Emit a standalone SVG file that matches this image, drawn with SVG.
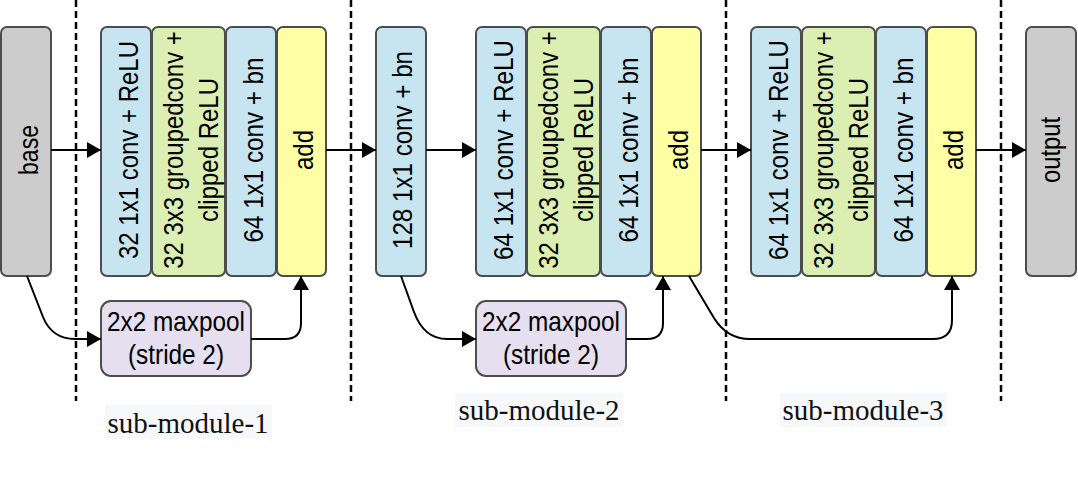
<svg xmlns="http://www.w3.org/2000/svg" width="1078" height="478" viewBox="0 0 1078 478">
<style>
.box{stroke:#4d4d4d;stroke-width:2}
.blue{fill:#c6e5f1}
.green{fill:#dcefb2}
.yellow{fill:#ffffa6}
.purple{fill:#e6dfef}
.gray{fill:#cccccc}
.lbl{font-family:"Liberation Sans",Arial,sans-serif;font-size:28px;fill:#000;text-anchor:middle}
.sub{font-family:"Liberation Serif","Times New Roman",serif;font-size:29px;fill:#111;text-anchor:middle}
.conn{fill:none;stroke:#000;stroke-width:2}
.dash{fill:none;stroke:#000;stroke-width:2.5;stroke-dasharray:7 4}
</style>
<defs>
<marker id="arr" viewBox="0 0 14 16" refX="14" refY="8" markerWidth="14" markerHeight="16" markerUnits="userSpaceOnUse" orient="auto">
<path d="M0,0 L14,8 L0,16 z" fill="#000"/>
</marker>
</defs>
<rect width="1078" height="478" fill="#fff"/>

<g id="separators">
<line class="dash" x1="76" y1="0" x2="76" y2="401"/>
<line class="dash" x1="351" y1="0" x2="351" y2="401"/>
<line class="dash" x1="726" y1="0" x2="726" y2="401"/>
<line class="dash" x1="1001" y1="0" x2="1001" y2="401"/>
</g>

<g id="base"><rect class="box gray" x="1" y="27" width="50" height="249" rx="6"/>
<text class="lbl" transform="translate(38,150) rotate(-90)" textLength="50" lengthAdjust="spacingAndGlyphs">base</text></g>

<g id="s1-conv1"><rect class="box blue" x="101" y="27" width="50" height="249" rx="6"/>
<text class="lbl" transform="translate(138,150) rotate(-90)" textLength="218" lengthAdjust="spacingAndGlyphs">32 1x1 conv + ReLU</text></g>
<g id="s1-gconv"><rect class="box green" x="152" y="27" width="73" height="249" rx="6"/>
<text class="lbl" transform="translate(183,150) rotate(-90) scale(0.855,1)">32 3x3 groupedconv +</text>
<text class="lbl" transform="translate(218,150) rotate(-90)" textLength="144" lengthAdjust="spacingAndGlyphs">clipped ReLU</text></g>
<g id="s1-conv2"><rect class="box blue" x="226" y="27" width="50" height="249" rx="6"/>
<text class="lbl" transform="translate(263,150) rotate(-90)" textLength="185" lengthAdjust="spacingAndGlyphs">64 1x1 conv + bn</text></g>
<g id="s1-add"><rect class="box yellow" x="277" y="27" width="49" height="249" rx="6"/>
<text class="lbl" transform="translate(313,150) rotate(-90)" textLength="40" lengthAdjust="spacingAndGlyphs">add</text></g>
<g id="s1-pool"><rect class="box purple" x="101" y="301" width="150" height="75" rx="10"/>
<text class="lbl" x="176" y="331" textLength="138" lengthAdjust="spacingAndGlyphs">2x2 maxpool</text>
<text class="lbl" x="176" y="364" textLength="96" lengthAdjust="spacingAndGlyphs">(stride 2)</text></g>

<g id="s2-pre"><rect class="box blue" x="376" y="27" width="50" height="249" rx="6"/>
<text class="lbl" transform="translate(412,150) rotate(-90)" textLength="198" lengthAdjust="spacingAndGlyphs">128 1x1 conv + bn</text></g>
<g id="s2-conv1"><rect class="box blue" x="476" y="27" width="50" height="249" rx="6"/>
<text class="lbl" transform="translate(513,150) rotate(-90)" textLength="220" lengthAdjust="spacingAndGlyphs">64 1x1 conv + ReLU</text></g>
<g id="s2-gconv"><rect class="box green" x="527" y="27" width="73" height="249" rx="6"/>
<text class="lbl" transform="translate(558,150) rotate(-90) scale(0.855,1)">32 3x3 groupedconv +</text>
<text class="lbl" transform="translate(593,150) rotate(-90)" textLength="144" lengthAdjust="spacingAndGlyphs">clipped ReLU</text></g>
<g id="s2-conv2"><rect class="box blue" x="601" y="27" width="50" height="249" rx="6"/>
<text class="lbl" transform="translate(638,150) rotate(-90)" textLength="185" lengthAdjust="spacingAndGlyphs">64 1x1 conv + bn</text></g>
<g id="s2-add"><rect class="box yellow" x="652" y="27" width="49" height="249" rx="6"/>
<text class="lbl" transform="translate(688,150) rotate(-90)" textLength="40" lengthAdjust="spacingAndGlyphs">add</text></g>
<g id="s2-pool"><rect class="box purple" x="476" y="301" width="150" height="75" rx="10"/>
<text class="lbl" x="551" y="331" textLength="138" lengthAdjust="spacingAndGlyphs">2x2 maxpool</text>
<text class="lbl" x="551" y="364" textLength="96" lengthAdjust="spacingAndGlyphs">(stride 2)</text></g>

<g id="s3-conv1"><rect class="box blue" x="751" y="27" width="50" height="249" rx="6"/>
<text class="lbl" transform="translate(788,150) rotate(-90)" textLength="220" lengthAdjust="spacingAndGlyphs">64 1x1 conv + ReLU</text></g>
<g id="s3-gconv"><rect class="box green" x="802" y="27" width="73" height="249" rx="6"/>
<text class="lbl" transform="translate(833,150) rotate(-90) scale(0.855,1)">32 3x3 groupedconv +</text>
<text class="lbl" transform="translate(868,150) rotate(-90)" textLength="144" lengthAdjust="spacingAndGlyphs">clipped ReLU</text></g>
<g id="s3-conv2"><rect class="box blue" x="876" y="27" width="50" height="249" rx="6"/>
<text class="lbl" transform="translate(913,150) rotate(-90)" textLength="185" lengthAdjust="spacingAndGlyphs">64 1x1 conv + bn</text></g>
<g id="s3-add"><rect class="box yellow" x="927" y="27" width="49" height="249" rx="6"/>
<text class="lbl" transform="translate(963,150) rotate(-90)" textLength="40" lengthAdjust="spacingAndGlyphs">add</text></g>

<g id="output"><rect class="box gray" x="1026" y="27" width="50" height="249" rx="6"/>
<text class="lbl" transform="translate(1060,150) rotate(-90)" textLength="66" lengthAdjust="spacingAndGlyphs">output</text></g>

<g id="connectors">
<path class="conn" d="M51 150 L101 150" marker-end="url(#arr)"/>
<path class="conn" d="M326 150 L376 150" marker-end="url(#arr)"/>
<path class="conn" d="M426 150 L476 150" marker-end="url(#arr)"/>
<path class="conn" d="M701 150 L751 150" marker-end="url(#arr)"/>
<path class="conn" d="M976 150 L1026 150" marker-end="url(#arr)"/>
<path class="conn" d="M27 276 L43 317 Q52 339 75 339 L101 339" marker-end="url(#arr)"/>
<path class="conn" d="M251 339 L285 339 Q301 339 301 323 L301 276" marker-end="url(#arr)"/>
<path class="conn" d="M401 276 L414 312 Q424 339 447 339 L476 339" marker-end="url(#arr)"/>
<path class="conn" d="M626 339 L647 339 Q663 339 663 323 L663 276" marker-end="url(#arr)"/>
<path class="conn" d="M689 276 L714 318 Q727 339 750 339 L933 339 Q952 339 952 320 L952 276" marker-end="url(#arr)"/>
</g>

<g id="labels">
<rect x="105" y="405" width="167" height="34" fill="#f7f8fa"/>
<text class="sub" x="188" y="433">sub-module-1</text>
<rect x="455" y="393" width="168" height="34" fill="#f7f8fa"/>
<text class="sub" x="539" y="420">sub-module-2</text>
<rect x="780" y="393" width="167" height="34" fill="#f7f8fa"/>
<text class="sub" x="863" y="420">sub-module-3</text>
</g>
</svg>
